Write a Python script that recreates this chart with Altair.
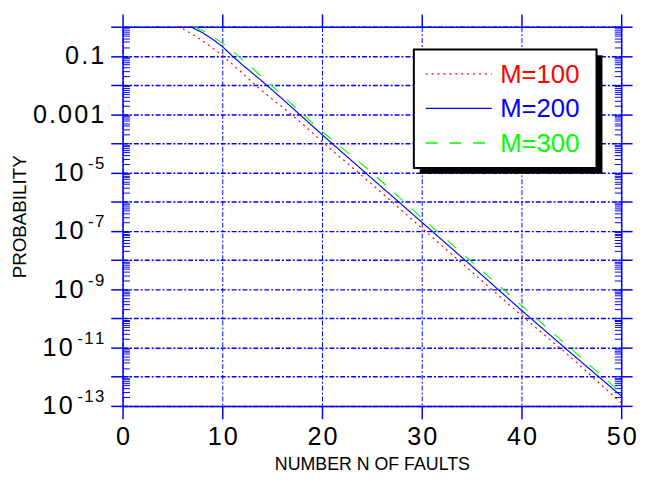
import json
import math
import altair as alt
import pandas as pd

FONT = "Liberation Sans"
BLUE = "#0000ff"
HS = "\u200a"  # hair space for the wide digit spacing of the original

# ---- data ----
series = ["M=100", "M=200", "M=300"]
colors = ["#ff0000", "#0000ff", "#00ff00"]
dashes = [[2, 4], [1, 0], [12, 12]]
widths = [1.2, 1.1, 1.4]

n_m100 = [5.5, 6, 7, 8, 9, 10, 11, 12, 13, 14, 15, 16, 18, 20, 25, 30, 35, 40, 45, 50]
p_m100 = [1.0, 0.87, 0.56, 0.33, 0.19, 0.105, 5.2e-2, 2.6e-2, 1.26e-2, 6.3e-3,
          3.3e-3, 1.8e-3, 4.8e-4, 1.15e-4, 4.0e-6, 1.26e-7, 4.0e-9, 1.26e-10,
          4.5e-12, 1.26e-13]

n_m200 = [6.8, 8, 9, 10, 11, 12, 13, 14, 15, 16, 18, 20, 25, 30, 35, 40, 45, 50]
p_m200 = [1.0, 0.63, 0.38, 0.21, 0.10, 5.0e-2, 2.6e-2, 1.35e-2, 6.8e-3, 3.4e-3,
          8.3e-4, 2.0e-4, 6.3e-6, 2.0e-7, 6.3e-9, 1.9e-10, 6.3e-12, 2.2e-13]

n_m300 = [7.2, 8, 9, 10, 11, 12, 13, 14, 15, 16, 18, 20, 25, 30, 35, 40, 45, 50]
p_m300 = [1.0, 0.74, 0.47, 0.28, 0.15, 7.6e-2, 3.8e-2, 1.9e-2, 9.3e-3, 4.5e-3,
          1.05e-3, 2.6e-4, 1.0e-5, 2.8e-7, 8.9e-9, 2.8e-10, 8.9e-12, 2.8e-13]

x_ticks = [0, 10, 20, 30, 40, 50]
x_labels = ["0", "10", "20", "30", "40", "50"]

y_decades = [1e0, 1e-1, 1e-2, 1e-3, 1e-4, 1e-5, 1e-6, 1e-7, 1e-8, 1e-9,
             1e-10, 1e-11, 1e-12, 1e-13]
# plain labels
y_plain_vals = [1e-1, 1e-3]
y_plain_labels = ["0.1", "0.001"]
# power labels: mantissa "10" + superscript exponent
y_pow_short_vals = [1e-5, 1e-7, 1e-9]
y_pow_long_vals = [1e-11, 1e-13]
y_exp_vals = [1e-5, 1e-7, 1e-9, 1e-11, 1e-13]
y_exp_labels = ["-5", "-7", "-9", "-11", "-13"]
minor_mult = [2, 3, 4, 5, 6, 7, 8, 9]

# ---- tables ----
rows = []
for name, ns, ps in [("M=100", n_m100, p_m100), ("M=200", n_m200, p_m200),
                     ("M=300", n_m300, p_m300)]:
    for n, p in zip(ns, ps):
        rows.append({"N": n, "P": p, "series": name})
df = pd.DataFrame(rows)

minor_values = [m * d for d in y_decades[1:] for m in minor_mult] + y_decades

W, H = 505, 384
LBL = 25.5
EXP = 17


def arr_expr(labels, index_expr):
    return json.dumps([HS.join(s) for s in labels], ensure_ascii=False) + "[" + index_expr + "]"


def lookup_expr(vals, labels):
    # map each tick value to its label by matching its decade exponent
    exps = [round(-math.log10(v)) for v in vals]
    table = {str(e): HS.join(s) for e, s in zip(exps, labels)}
    return json.dumps(table, ensure_ascii=False) + "[''+round(-log(datum.value)/LN10)]"


xscale = alt.Scale(domain=[0, 50], nice=False, zero=False)
yscale = alt.Scale(type="log", domain=[1e-13, 1], nice=False)

common = dict(domainColor=BLUE, domainWidth=1.5, tickColor=BLUE, tickWidth=1.5)
lab = dict(labelFont=FONT, labelColor="black", labelOverlap=False, labelFlush=False)

ax_bottom = alt.Axis(orient="bottom", values=x_ticks,
                     labelExpr=arr_expr(x_labels, "round(datum.value/10)"),
                     title="NUMBER N OF FAULTS", grid=True, gridColor=BLUE,
                     gridDash=[5, 2, 2, 2], gridWidth=1, gridOpacity=1,
                     tickSize=13, labelFontSize=LBL, labelPadding=6,
                     titleFont=FONT, titleFontSize=18,
                     titleFontWeight="normal", titleColor="black",
                     titleX=W / 2, titleY=59, titleBaseline="middle",
                     titleAlign="center", **lab, **common)
ax_left = alt.Axis(orient="left", values=y_decades,
                   labelExpr="indexof([" + ",".join(str(v) for v in y_plain_vals) + "], datum.value) >= 0 ? " +
                   lookup_expr(y_plain_vals, y_plain_labels) + " : ''",
                   title="PROBABILITY", grid=True, gridColor=BLUE,
                   gridDash=[5, 2, 2, 2], gridWidth=1.5, gridOpacity=1,
                   tickSize=12, labelFontSize=LBL, labelPadding=7,
                   titleFont=FONT, titleFontSize=19,
                   titleFontWeight="normal", titleColor="black",
                   titleX=-104, titleY=H / 2, titleAngle=270,
                   titleBaseline="middle", titleAlign="center", **lab, **common)


def label_axis(vals, expr, size, pad, offset=0, baseline="middle"):
    return alt.Axis(orient="left", values=vals, labelExpr=expr, title=None,
                    grid=False, domain=False, ticks=True, tickSize=12,
                    tickOpacity=0, labelFontSize=size, labelPadding=pad,
                    labelOffset=offset, labelBaseline=baseline, **lab)


ax_pow_short = label_axis(y_pow_short_vals, "'1" + HS + "0'", LBL, 7 + 21)
ax_pow_long = label_axis(y_pow_long_vals, "'1" + HS + "0'", LBL, 7 + 32)
ax_exp = label_axis(y_exp_vals, lookup_expr(y_exp_vals, y_exp_labels), EXP, 7,
                    offset=-4, baseline="alphabetic")

ax_top = alt.Axis(orient="top", values=x_ticks, labels=False, title=None,
                  grid=False, tickSize=13, **common)
ax_right = alt.Axis(orient="right", values=y_decades, labels=False, title=None,
                    grid=False, tickSize=11, **common)
ax_left_in = alt.Axis(orient="right", offset=-W, values=minor_values,
                      labels=False, title=None, grid=False, domain=False,
                      tickSize=7, tickColor=BLUE, tickWidth=1)
ax_right_in = alt.Axis(orient="left", offset=-W, values=minor_values,
                       labels=False, title=None, grid=False, domain=False,
                       tickSize=7, tickColor=BLUE, tickWidth=1)

lines = alt.Chart(df).mark_line(clip=False).encode(
    x=alt.X("N:Q", scale=xscale, axis=ax_bottom),
    y=alt.Y("P:Q", scale=yscale, axis=ax_left),
    color=alt.Color("series:N", scale=alt.Scale(domain=series, range=colors), legend=None),
    strokeDash=alt.StrokeDash("series:N", scale=alt.Scale(domain=series, range=dashes), legend=None),
    strokeWidth=alt.StrokeWidth("series:N", scale=alt.Scale(domain=series, range=widths), legend=None),
)


def ghost(xaxis, yaxis):
    return alt.Chart(df).mark_point(opacity=0).encode(
        x=alt.X("N:Q", scale=xscale, axis=xaxis),
        y=alt.Y("P:Q", scale=yscale, axis=yaxis),
    )


ghosts = [
    ghost(ax_top, ax_right),
    ghost(None, ax_left_in),
    ghost(None, ax_right_in),
    ghost(None, ax_pow_short),
    ghost(None, ax_pow_long),
    ghost(None, ax_exp),
]

one = alt.Data(values=[{"k": 0}])

# legend box (decoration)
shadow = alt.Chart(one).mark_rect(color="black").encode(
    x=alt.value(301), x2=alt.value(486), y=alt.value(29), y2=alt.value(149))
box = alt.Chart(one).mark_rect(fill="white", stroke="black", strokeWidth=2).encode(
    x=alt.value(295), x2=alt.value(480), y=alt.value(23), y2=alt.value(143))

legend_layers = []
for i, (name, col, dsh, wd) in enumerate(zip(series, colors, dashes, widths)):
    ly = 47.7 + 35 * i
    legend_layers.append(
        alt.Chart(one).mark_rule(color=col, strokeDash=dsh, strokeWidth=wd).encode(
            x=alt.value(307), x2=alt.value(374), y=alt.value(ly)))
    legend_layers.append(
        alt.Chart(one).mark_text(align="left", baseline="middle", font=FONT,
                                 fontSize=26, color=col, text=name).encode(
            x=alt.value(382.5), y=alt.value(ly + 1)))

chart = alt.layer(
    lines, *ghosts, shadow, box, *legend_layers
).resolve_axis(
    x="independent", y="independent"
).properties(
    width=W, height=H,
    autosize=alt.AutoSizeParams(type="none"),
    padding={"left": 116, "top": 16, "right": 16, "bottom": 66},
    background="white",
).configure_view(stroke=None)

chart.save("out.html", embed_options={"renderer": "svg", "actions": False})
